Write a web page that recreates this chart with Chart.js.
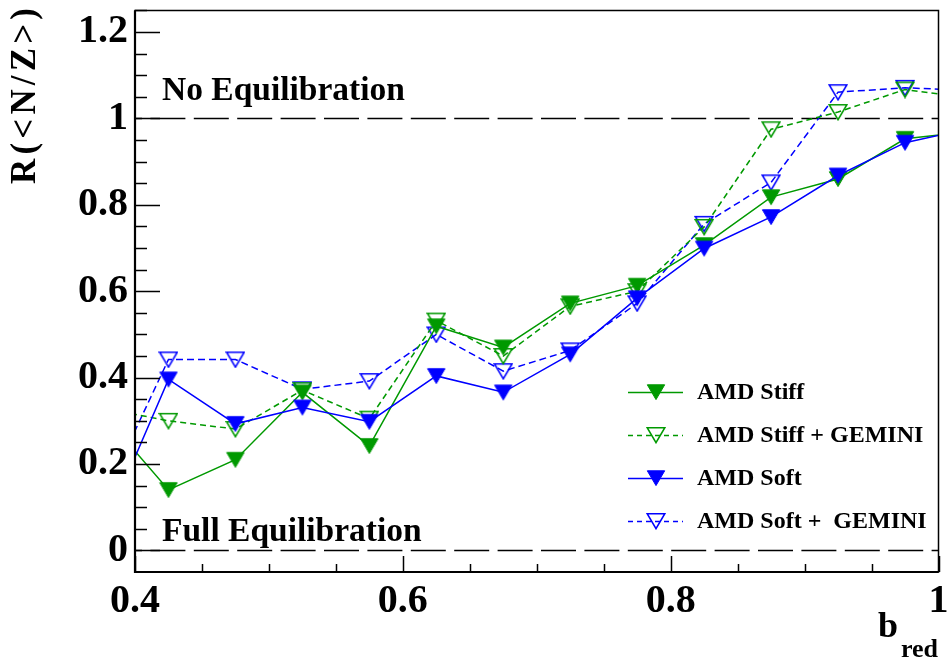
<!DOCTYPE html>
<html>
<head>
<meta charset="utf-8">
<script src="https://cdn.jsdelivr.net/npm/chart.js@4/dist/chart.umd.min.js"></script>
<style>
  html, body { margin: 0; padding: 0; background: #fff; }
  #c { display: block; }
</style>
</head>
<body>
<canvas id="c" width="949" height="660"></canvas>
<script>
// Reduced impact parameter bins (edge bins fall just outside the axis range)
const bRed = [0.375, 0.425, 0.475, 0.525, 0.575, 0.625, 0.675, 0.725, 0.775, 0.825, 0.875, 0.925, 0.975, 1.025];

// Isospin transport ratio R(<N/Z>) per bin
const amdStiff       = [0.32, 0.14, 0.21, 0.366, 0.242, 0.519, 0.47, 0.572, 0.613, 0.707, 0.818, 0.86, 0.953, 0.97];
const amdStiffGemini = [0.33, 0.30, 0.281, 0.371, 0.305, 0.532, 0.45, 0.565, 0.60, 0.749, 0.975, 1.015, 1.067, 1.047];
const amdSoft        = [0.036, 0.396, 0.293, 0.331, 0.298, 0.404, 0.366, 0.454, 0.584, 0.699, 0.772, 0.868, 0.944, 0.978];
const amdSoftGemini  = [0.112, 0.442, 0.442, 0.373, 0.392, 0.50, 0.415, 0.463, 0.572, 0.756, 0.852, 1.061, 1.071, 1.065];

const seriesLabels = ['AMD Stiff', 'AMD Stiff + GEMINI', 'AMD Soft', 'AMD Soft +  GEMINI'];

const xTickValues = [0.4, 0.6, 0.8, 1];
const yTickValues = [0, 0.2, 0.4, 0.6, 0.8, 1, 1.2];
const xMinorStep = 0.05;
const yMinorStep = 0.05;

// Reference levels
const refLevels = [
  { value: 1, text: 'No Equilibration' },
  { value: 0, text: 'Full Equilibration' }
];

const GREEN = 'rgb(0,153,0)';
const BLUE = 'rgb(0,0,255)';
const SERIF = '"Liberation Serif", "Times New Roman", serif';

function triangleMarker(color, filled) {
  const c = document.createElement('canvas');
  c.width = 20; c.height = 18;
  const g = c.getContext('2d');
  g.beginPath();
  g.moveTo(1.3, 1.8);
  g.lineTo(18.7, 1.8);
  g.lineTo(10, 16.6);
  g.closePath();
  g.strokeStyle = color;
  if (filled) {
    g.fillStyle = color;
    g.fill();
    g.lineWidth = 1;
    g.stroke();
  } else {
    g.lineWidth = 1.6;
    g.stroke();
  }
  return c;
}

const markers = {
  stiff: triangleMarker(GREEN, true),
  stiffG: triangleMarker(GREEN, false),
  soft: triangleMarker(BLUE, true),
  softG: triangleMarker(BLUE, false)
};

function pts(ys) { return bRed.map((x, i) => ({ x: x, y: ys[i] })); }

const datasets = [
  { label: seriesLabels[0], data: pts(amdStiff), borderColor: GREEN, borderWidth: 1.5, borderDash: [], pointStyle: markers.stiff, order: 1 },
  { label: seriesLabels[1], data: pts(amdStiffGemini), borderColor: GREEN, borderWidth: 1.5, borderDash: [6, 4], pointStyle: markers.stiffG, order: 2 },
  { label: seriesLabels[2], data: pts(amdSoft), borderColor: BLUE, borderWidth: 1.5, borderDash: [], pointStyle: markers.soft, order: 0 },
  { label: seriesLabels[3], data: pts(amdSoftGemini), borderColor: BLUE, borderWidth: 1.5, borderDash: [7, 4], pointStyle: markers.softG, order: 3 }
].map(d => Object.assign({
  backgroundColor: d.borderColor,
  pointRadius: 9,
  pointHoverRadius: 9,
  tension: 0,
  fill: false
}, d));

const decorations = {
  id: 'decorations',
  beforeDatasetsDraw(chart) {
    const { ctx, chartArea: a, scales: { y } } = chart;
    ctx.save();
    ctx.strokeStyle = '#000';
    ctx.lineWidth = 1.5;
    ctx.setLineDash([35, 8.4]);
    ctx.lineDashOffset = 28;
    refLevels.forEach(r => {
      const py = Math.round(y.getPixelForValue(r.value)) + 0.5;
      ctx.beginPath();
      ctx.moveTo(a.left, py);
      ctx.lineTo(a.right, py);
      ctx.stroke();
    });
    ctx.restore();
  },
  afterDatasetsDraw(chart) {
    const { ctx, chartArea: a, scales: { x, y } } = chart;
    ctx.save();
    // frame
    ctx.strokeStyle = '#000';
    ctx.lineWidth = 1.5;
    ctx.strokeRect(a.left, a.top, a.right - a.left, a.bottom - a.top);
    ctx.lineWidth = 2.2;
    ctx.beginPath();
    ctx.moveTo(a.left, a.top);
    ctx.lineTo(a.left, a.bottom);
    ctx.lineTo(a.right, a.bottom);
    ctx.stroke();

    // ticks pointing inward
    ctx.lineWidth = 1.5;
    ctx.beginPath();
    for (let v = x.min; v <= x.max + 1e-9; v += xMinorStep) {
      const major = xTickValues.some(t => Math.abs(t - v) < 1e-6);
      const px = Math.round(x.getPixelForValue(v)) + 0.5;
      ctx.moveTo(px, a.bottom);
      ctx.lineTo(px, a.bottom - (major ? 16 : 8));
    }
    for (let v = 0; v <= y.max + 1e-9; v += yMinorStep) {
      const major = yTickValues.some(t => Math.abs(t - v) < 1e-6);
      const py = Math.round(y.getPixelForValue(v)) + 0.5;
      ctx.moveTo(a.left, py);
      ctx.lineTo(a.left + (major ? 25 : 12), py);
    }
    ctx.stroke();

    // reference level captions
    ctx.fillStyle = '#000';
    ctx.font = 'bold 33.5px ' + SERIF;
    ctx.textAlign = 'left';
    ctx.textBaseline = 'alphabetic';
    ctx.fillText(refLevels[0].text, 162, y.getPixelForValue(refLevels[0].value) - 18.5);
    ctx.fillText(refLevels[1].text, 162, y.getPixelForValue(refLevels[1].value) - 9);

    // legend
    const legendRows = [392, 435, 478, 521];
    ctx.font = 'bold 24px ' + SERIF;
    ctx.textBaseline = 'middle';
    chart.data.datasets.forEach((ds, i) => {
      const ly = legendRows[i];
      ctx.save();
      ctx.strokeStyle = ds.borderColor;
      ctx.lineWidth = 1.5;
      ctx.setLineDash(ds.borderDash.length ? [5, 4] : []);
      ctx.beginPath();
      ctx.moveTo(628, ly + 0.5);
      ctx.lineTo(683, ly + 0.5);
      ctx.stroke();
      ctx.restore();
      const m = ds.pointStyle;
      ctx.drawImage(m, 656 - m.width / 2, ly - m.height / 2);
      ctx.fillStyle = '#000';
      ctx.fillText(ds.label, 697, ly + 1);
    });

    // y-axis title, rotated, letters slightly spread
    const title = 'R(<N/Z>)';
    ctx.font = 'bold 35px ' + SERIF;
    ctx.textBaseline = 'alphabetic';
    ctx.textAlign = 'left';
    const widths = [...title].map(ch => ctx.measureText(ch).width);
    const natural = widths.reduce((s, w) => s + w, 0);
    const target = 176;
    const gap = Math.max(0, (target - natural) / (title.length - 1));
    ctx.save();
    ctx.translate(35, 184);
    ctx.rotate(-Math.PI / 2);
    let cx = 0;
    [...title].forEach((ch, i) => {
      ctx.fillText(ch, cx, 0);
      cx += widths[i] + gap;
    });
    ctx.restore();

    // x-axis title b_red
    ctx.font = 'bold 36px ' + SERIF;
    ctx.fillText('b', 878, 637);
    ctx.font = 'bold 26px ' + SERIF;
    ctx.fillText('red', 901, 657);
    ctx.restore();
  }
};

const tickFont = { family: SERIF, size: 40, weight: 'bold' };

function noScalePadding(s) {
  s.paddingTop = 0; s.paddingBottom = 0; s.paddingLeft = 0; s.paddingRight = 0;
}

new Chart(document.getElementById('c'), {
  type: 'line',
  data: { datasets: datasets },
  options: {
    responsive: false,
    animation: false,
    events: [],
    layout: { padding: { top: 6, right: 9, left: 0, bottom: 0 } },
    plugins: { legend: { display: false }, tooltip: { enabled: false } },
    scales: {
      x: {
        type: 'linear',
        min: 0.4,
        max: 1,
        afterBuildTicks: s => { s.ticks = xTickValues.map(v => ({ value: v })); },
        afterFit: s => { s.height = 88; noScalePadding(s); },
        grid: { display: false, drawTicks: false },
        border: { display: false },
        ticks: { color: '#000', font: tickFont, padding: 6, autoSkip: false, maxRotation: 0, callback: v => String(v) }
      },
      y: {
        type: 'linear',
        min: -0.05,
        max: 1.25,
        afterBuildTicks: s => { s.ticks = yTickValues.map(v => ({ value: v })); },
        afterFit: s => { s.width = 135; noScalePadding(s); },
        grid: { display: false, drawTicks: false },
        border: { display: false },
        ticks: { color: '#000', font: tickFont, padding: 7, autoSkip: false, callback: v => String(v) }
      }
    }
  },
  plugins: [decorations]
});
</script>
</body>
</html>
